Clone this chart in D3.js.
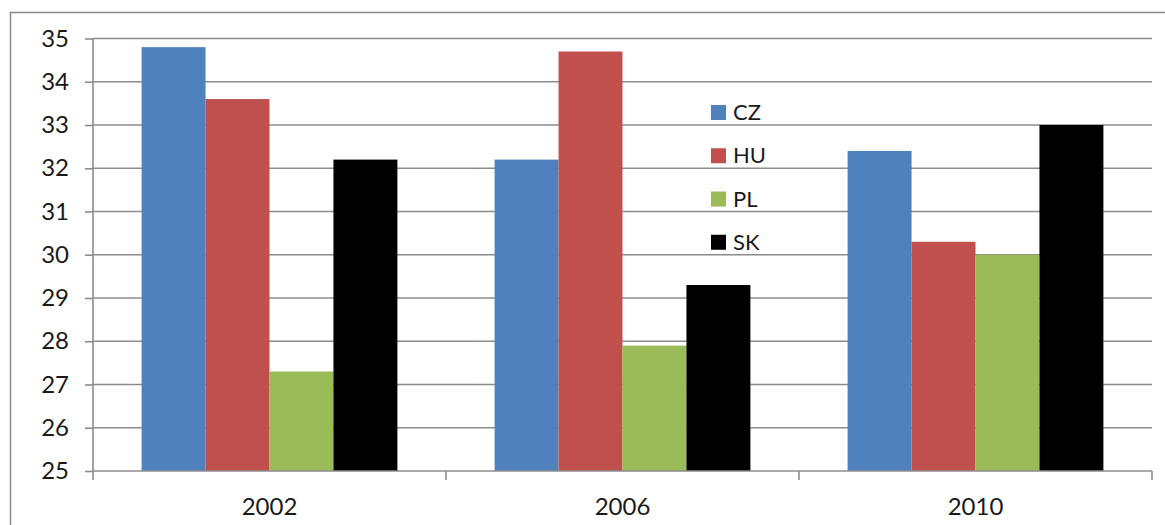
<!DOCTYPE html>
<html>
<head>
<meta charset="utf-8">
<script src="https://cdn.jsdelivr.net/npm/d3@7"></script>
<style>
  body { margin: 0; background: #fff; }
  svg { display: block; }
</style>
</head>
<body>
<div id="mychart"></div>
<script>
const years = ["2002", "2006", "2010"];
const countries = ["CZ", "HU", "PL", "SK"];
const colors = ["#4f81bd", "#c0504d", "#9bbb59", "#000000"];
const CZ = [34.8, 32.2, 32.4];
const HU = [33.6, 34.7, 30.3];
const PL = [27.3, 27.9, 30.0];
const SK = [32.2, 29.3, 33.0];
const yTicks = [25, 26, 27, 28, 29, 30, 31, 32, 33, 34, 35];

const series = [CZ, HU, PL, SK];
const rows = [];
years.forEach((yr, i) => {
    countries.forEach((c, j) => rows.push({ year: yr, country: c, value: series[j][i] }));
});

const width = 1165;
const height = 525;
const plotLeft = 93, plotRight = 1152, plotTop = 38.5, plotBottom = 471;
const textColor = "#1a1a1a";

const svg = d3.select("#mychart")
    .append("svg")
    .attr("width", width)
    .attr("height", height)
    .style("font-family", "Lato, 'Open Sans', sans-serif");

// outer chart frame (right/bottom edges fall outside the picture)
svg.append("rect")
    .attr("x", 10.5).attr("y", 12.5)
    .attr("width", 1170).attr("height", 530)
    .attr("fill", "none")
    .attr("stroke", "#8a8a8a")
    .attr("stroke-width", 1.5);

const x0 = d3.scaleBand().domain(years).range([plotLeft, plotRight]).paddingInner(0).paddingOuter(0);
const x1 = d3.scaleBand().domain(countries).range([0, x0.bandwidth()]).paddingInner(0).paddingOuter(0.76);
const y = d3.scaleLinear().domain([25, 35]).range([plotBottom, plotTop]);
const color = d3.scaleOrdinal().domain(countries).range(colors);

// gridlines
svg.append("g")
    .selectAll("line")
    .data(yTicks.slice(1))
    .join("line")
    .attr("x1", plotLeft).attr("x2", plotRight)
    .attr("y1", d => y(d)).attr("y2", d => y(d))
    .attr("stroke", "#8c8c8c")
    .attr("stroke-width", 1.6);

// y axis
const yAxis = svg.append("g")
    .attr("transform", `translate(${plotLeft},0)`)
    .call(d3.axisLeft(y).tickValues(yTicks).tickSize(8).tickPadding(16).tickSizeOuter(0));
yAxis.attr("font-family", null).attr("font-size", null);
yAxis.select(".domain").attr("stroke", "#8c8c8c").attr("stroke-width", 1.6)
    .attr("d", `M0,${plotTop}V${plotBottom + 9}`);
yAxis.selectAll(".tick line").attr("stroke", "#8c8c8c").attr("stroke-width", 1.6);
yAxis.selectAll(".tick text").style("font-size", "24px").attr("fill", textColor);

// bars
svg.append("g")
    .selectAll("rect")
    .data(rows)
    .join("rect")
    .attr("x", d => x0(d.year) + x1(d.country))
    .attr("y", d => y(d.value))
    .attr("width", x1.bandwidth())
    .attr("height", d => y(25) - y(d.value))
    .attr("fill", d => color(d.country));

// x axis
const xAxis = svg.append("g")
    .attr("transform", `translate(0,${plotBottom})`)
    .call(d3.axisBottom(x0).tickSize(0).tickPadding(27));
xAxis.attr("font-family", null).attr("font-size", null);
xAxis.select(".domain").attr("stroke", "#8c8c8c").attr("stroke-width", 1.6)
    .attr("d", `M${plotLeft},0H${plotRight}`);
xAxis.selectAll(".tick text").style("font-size", "24px").attr("fill", textColor);
svg.append("g")
    .selectAll("line")
    .data(years.slice(1).map(d => x0(d)).concat([plotRight]))
    .join("line")
    .attr("x1", d => d).attr("x2", d => d)
    .attr("y1", plotBottom).attr("y2", plotBottom + 9)
    .attr("stroke", "#8c8c8c")
    .attr("stroke-width", 1.6);

// legend, one row per gridline step
const step = y(32) - y(33);
const legend = svg.append("g")
    .selectAll("g")
    .data(countries)
    .join("g")
    .attr("transform", (d, i) => `translate(711, ${105 + i * step})`);
legend.append("rect")
    .attr("width", 15).attr("height", 15)
    .attr("fill", d => color(d));
legend.append("text")
    .attr("x", 22).attr("y", 15)
    .style("font-size", "22px")
    .attr("fill", textColor)
    .text(d => d);
</script>
</body>
</html>
